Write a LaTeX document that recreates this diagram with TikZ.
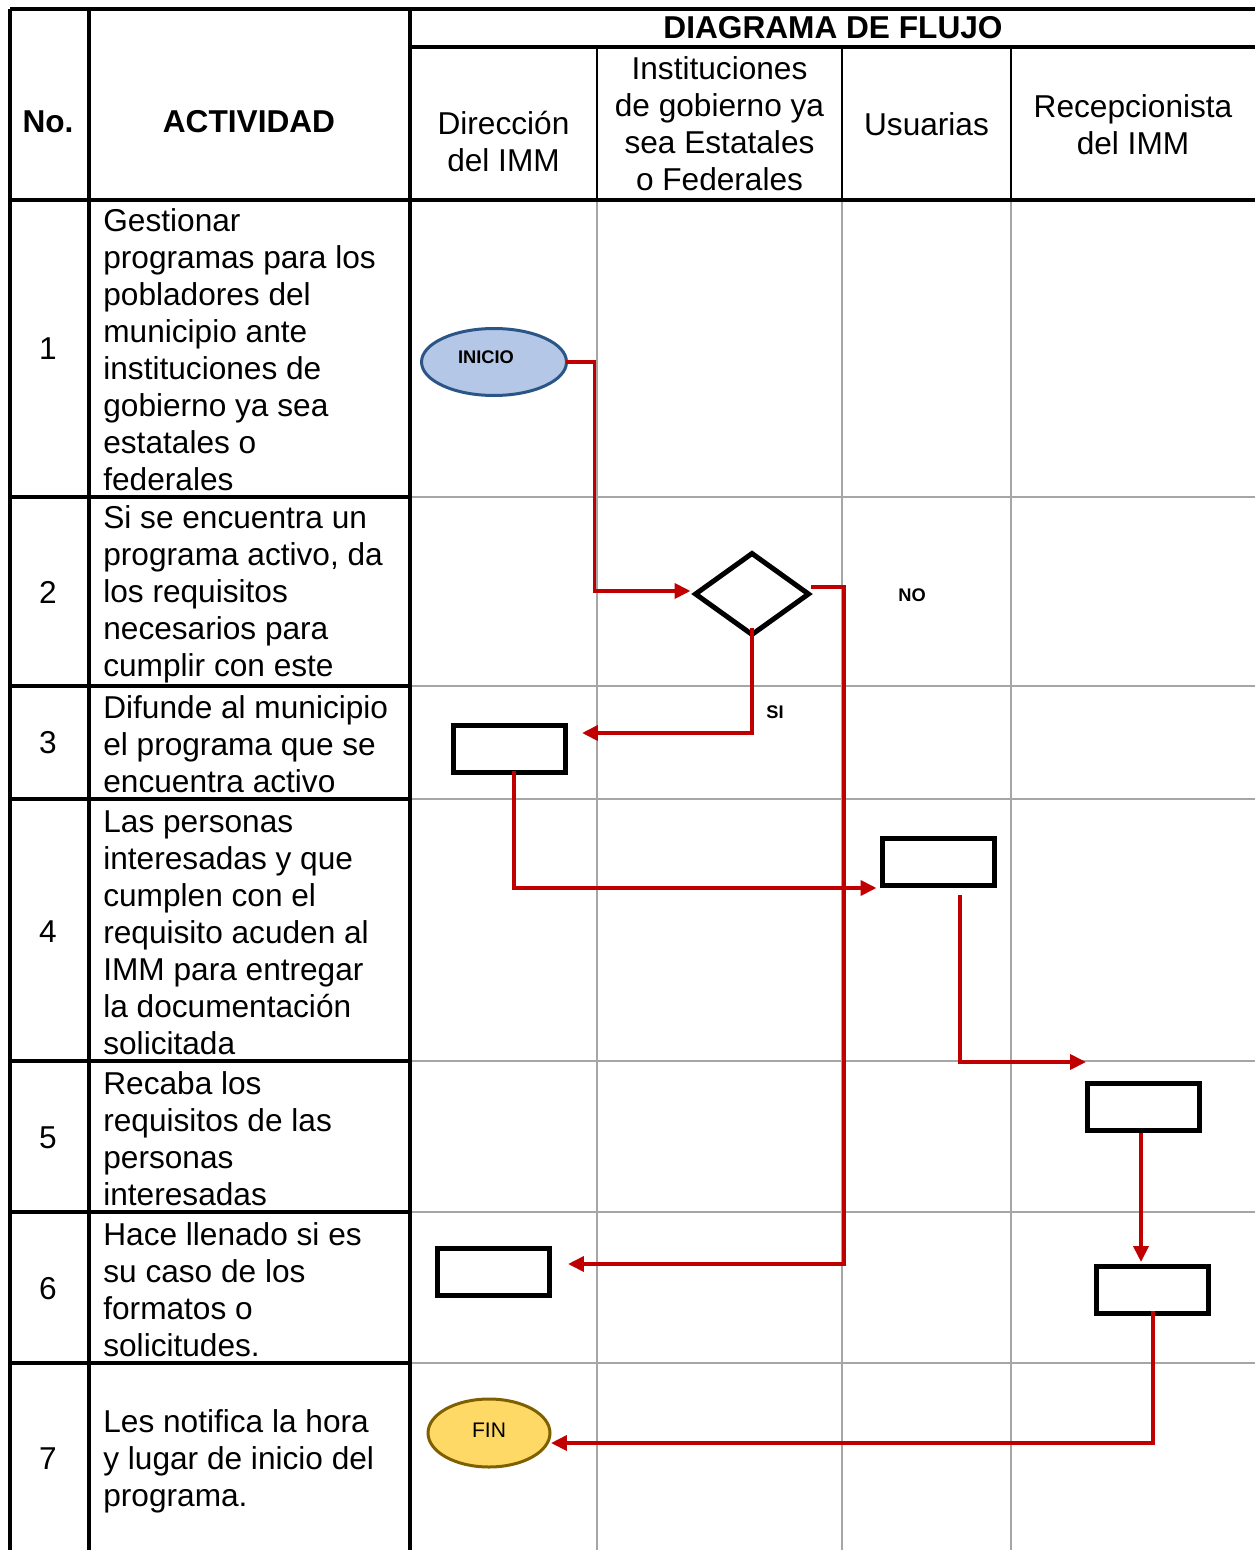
\documentclass[tikz,border=0pt]{standalone}
\usepackage{fontspec}
\setmainfont{Liberation Sans}
\usetikzlibrary{shapes.geometric,arrows.meta}
\definecolor{redc}{HTML}{C00000}
\definecolor{gridc}{HTML}{A6A6A6}
\definecolor{inifill}{HTML}{B4C7E7}
\definecolor{inidraw}{HTML}{2B5586}
\definecolor{finfill}{HTML}{FFD966}
\definecolor{findraw}{HTML}{7F6000}
\tikzset{
  big/.style={font=\fontsize{18}{21.06}\selectfont},
  txt/.style={big, inner sep=0, align=left, anchor=west},
  ctr/.style={big, inner sep=0, align=center},
  frame/.style={line width=0.065cm, black},
  thin/.style={line width=0.03cm, black},
  grid/.style={line width=0.04cm, gridc},
  stepbox/.style={draw, line width=0.1cm, minimum width=2.24cm, minimum height=0.94cm, inner sep=0, outer sep=0},
  flow/.style={draw=redc, line width=0.075cm, -{Triangle[length=0.32cm,width=0.3cm]}},
  tag/.style={font=\bfseries\fontsize{10.4}{12}\selectfont, inner sep=0},
}
\begin{document}
\begin{tikzpicture}[x=0.02cm, y=-0.02cm]
\useasboundingbox (0,0) rectangle (1255,1550);

% lane grid below the header
\foreach \xx in {597,842,1011} \draw[grid] (\xx,200) -- (\xx,1550);
\foreach \yy in {497,686,799,1061,1212,1363} \draw[grid] (410,\yy) -- (1255,\yy);

% table frame
\draw[frame] (10,9) -- (1255,9);
\draw[frame] (410,47) -- (1255,47);
\draw[frame] (10,200) -- (1255,200);
\foreach \xx in {10,89,410} \draw[frame] (\xx,9) -- (\xx,1550);
\foreach \yy in {497,686,799,1061,1212,1363} \draw[frame] (10,\yy) -- (410,\yy);
\foreach \xx in {597,842,1011} \draw[thin] (\xx,47) -- (\xx,200);

% header
\node[ctr, font=\bfseries\fontsize{18}{21.06}\selectfont] (hno) at (48,122) {No.};
\node[ctr, font=\bfseries\fontsize{18}{21.06}\selectfont] (hact) at (249,122) {ACTIVIDAD};
\node[ctr, font=\bfseries\fontsize{18}{21.06}\selectfont] (hdf) at (833,28) {DIAGRAMA DE FLUJO};
\node[ctr] (hdir) at (503.5,142) {Dirección\\del IMM};
\node[ctr] (hins) at (719.5,124) {Instituciones\\de gobierno ya\\sea Estatales\\o Federales};
\node[ctr] (husu) at (926.5,124) {Usuarias};
\node[ctr] (hrec) at (1133,124.5) {Recepcionista\\del IMM};

% numbers
\foreach \n/\yy in {1/349,2/592,3/743,4/932,5/1138,6/1289,7/1459}
  \node[ctr] (num\n) at (48,\yy) {\n};

% activities
\node[txt] (act1) at (103,350) {Gestionar\\programas para los\\pobladores del\\municipio ante\\instituciones de\\gobierno ya sea\\estatales o\\federales};
\node[txt] (act2) at (103,594) {Si se encuentra un\\programa activo, da\\los requisitos\\necesarios para\\cumplir con este};
\node[txt] (act3) at (103,744) {Difunde al municipio\\el programa que se\\encuentra activo};
\node[txt] (act4) at (103,933) {Las personas\\interesadas y que\\cumplen con el\\requisito acuden al\\IMM para entregar\\la documentación\\solicitada};
\node[txt] (act5) at (103,1139) {Recaba los\\requisitos de las\\personas\\interesadas};
\node[txt] (act6) at (103,1290) {Hace llenado si es\\su caso de los\\formatos o\\solicitudes.};
\node[txt] (act7) at (103,1461) {Les notifica la hora\\y lugar de inicio del\\programa.};

% flow shapes
\node[ellipse, draw=inidraw, fill=inifill, line width=0.06cm, minimum width=2.9cm, minimum height=1.34cm, inner sep=0, outer sep=0] (inicio) at (494,362) {};
\node[tag] (inicioT) at (486,357) {INICIO};
\node[diamond, draw, line width=0.1cm, minimum width=2.26cm, minimum height=1.62cm, inner sep=0, outer sep=0] (decision) at (752,594) {};
\node[stepbox] (box3) at (509.5,749) {};
\node[stepbox] (box4) at (938.5,862) {};
\node[stepbox] (box5) at (1143.5,1107) {};
\node[stepbox] (box6r) at (1152.5,1290) {};
\node[stepbox] (box6l) at (493.5,1272) {};
\node[ellipse, draw=findraw, fill=finfill, line width=0.06cm, minimum width=2.44cm, minimum height=1.36cm, inner sep=0, outer sep=0] (fin) at (489,1433) {};
\node[inner sep=0, font=\fontsize{12}{14}\selectfont] (finT) at (489,1430) {FIN};

\node[tag] (noT) at (912,595) {NO};
\node[tag] (siT) at (775,712) {SI};

% connectors
\draw[flow] (inicio.east) -- ++(28,0) |- ([shift={(-5,-3)}]decision.west);
\draw[flow] ([shift={(2.5,-7)}]decision.east) -- ++(33,0) |- ([shift={(18.5,-8)}]box6l.east);
\draw[flow] ([shift={(0,-6.5)}]decision.south) |- ([shift={(16.5,-16)}]box3.east);
\draw[flow] ([shift={(4.5,-1.5)}]box3.south) |- ([shift={(-6,2.5)}]box4.south west);
\draw[flow] ([shift={(21.5,9.5)}]box4.south) |- ([shift={(-1.5,-21.5)}]box5.north west);
\draw[flow] ([shift={(-2.5,2.5)}]box5.south) -- ([shift={(-11.5,-4.5)}]box6r.north);
\draw[flow] ([shift={(0.5,-2.5)}]box6r.south) |- ([shift={(1,10)}]fin.east);
\end{tikzpicture}
\end{document}
